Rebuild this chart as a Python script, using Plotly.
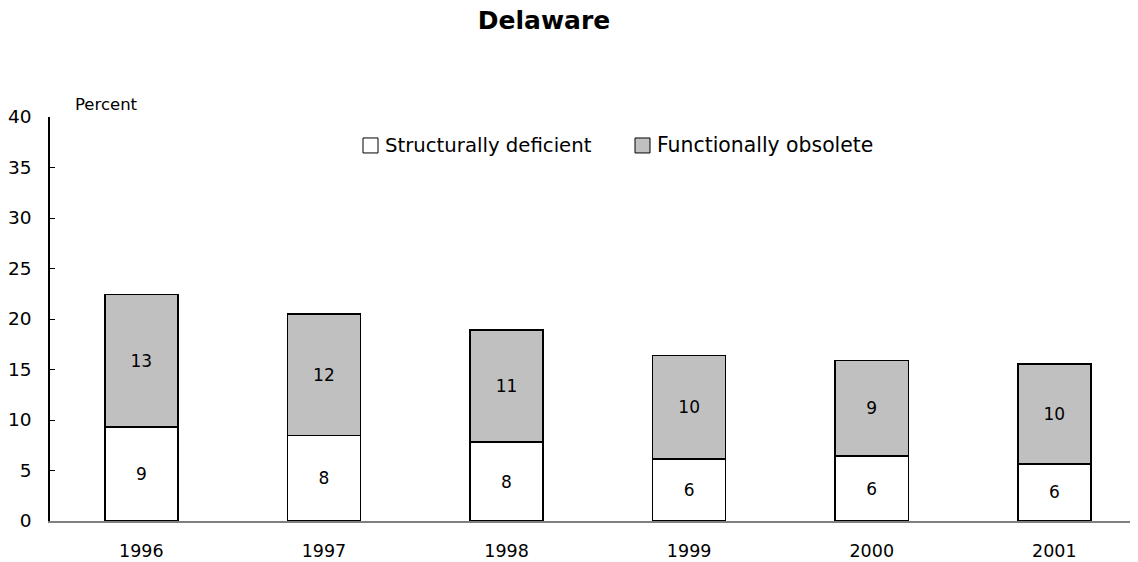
import plotly.graph_objects as go

years = ["1996", "1997", "1998", "1999", "2000", "2001"]
structurally_deficient = [9.31, 8.49, 7.80, 6.15, 6.42, 5.66]
functionally_obsolete = [13.14, 12.01, 11.13, 10.25, 9.45, 9.88]
y_ticks = [0, 5, 10, 15, 20, 25, 30, 35, 40]
series_names = ["Structurally deficient", "Functionally obsolete"]
series_colors = ["white", "#c0c0c0"]

FONT = "DejaVu Sans"
W, H = 1138, 562
OFF = 8  # page body margin offset (screen px = figure px + OFF)
L, R, T, B = 42, 8, 108.5, 49

fig = go.Figure()
for name, vals, col in zip(series_names, [structurally_deficient, functionally_obsolete], series_colors):
    fig.add_trace(go.Bar(
        x=years, y=vals, name=name,
        marker=dict(color=col, line=dict(color="black", width=1.5)),
        texttemplate="%{y:.0f}", textposition="inside", insidetextanchor="middle",
        textfont=dict(color="black", size=17, family=FONT), textangle=0,
    ))

pw = W - L - R
ph = H - T - B

def px_x(p):  # screen px -> paper
    return (p - OFF - L) / pw

def px_y(p):
    return 1 - (p - OFF - T) / ph

shapes = []
annotations = []
box_left = [363, 635]
text_left = [383, 655]
legend_sizes = [19.7, 20.4]
for i, name in enumerate(series_names):
    shapes.append(dict(type="rect", xref="paper", yref="paper",
                       x0=px_x(box_left[i]), x1=px_x(box_left[i] + 15),
                       y0=px_y(137.5), y1=px_y(152.5),
                       fillcolor=series_colors[i], line=dict(color="black", width=1)))
    annotations.append(dict(text=name, x=px_x(text_left[i]), y=px_y(145), xref="paper", yref="paper",
                            xanchor="left", yanchor="middle", showarrow=False,
                            font=dict(size=legend_sizes[i], family=FONT)))
annotations.append(dict(text="Percent", x=px_x(73), y=px_y(104), xref="paper", yref="paper",
                        xanchor="left", yanchor="middle", showarrow=False,
                        font=dict(size=16.5, family=FONT)))

fig.update_layout(
    width=W, height=H,
    margin=dict(l=L, r=R, t=T, b=B, autoexpand=False),
    barmode="stack", bargap=0.6,
    plot_bgcolor="white", paper_bgcolor="white",
    font=dict(family=FONT, size=17, color="black"),
    showlegend=False,
    title=dict(text="<b>Delaware</b>", x=(544 - OFF) / W, xanchor="center", y=1 - 3 / H, yanchor="top",
               font=dict(size=25, family=FONT, color="black")),
    xaxis=dict(range=[-0.5, 5.458], showline=True, linecolor="#808080", linewidth=1.5,
               ticks="", showgrid=False, tickfont=dict(size=17.5), ticklabelstandoff=13),
    yaxis=dict(range=[0, 40], tickvals=y_ticks, showline=True, linecolor="black", linewidth=1.5,
               ticks="inside", ticklen=5, tickcolor="black", showgrid=False, zeroline=False,
               tickfont=dict(size=18.5), ticklabelstandoff=13),
    shapes=shapes,
    annotations=annotations,
)

fig.write_html("out.html")
